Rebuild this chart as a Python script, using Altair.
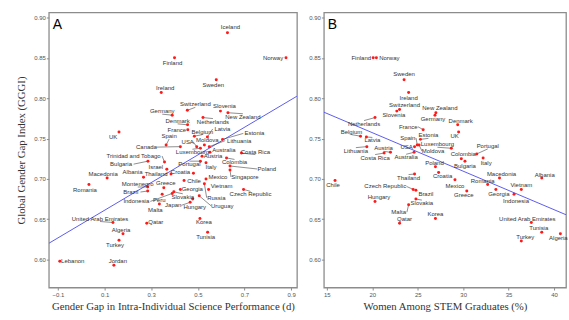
import altair as alt
import pandas as pd
import numpy as np

# ---------------- Panel A data ----------------
countries_a = ["Iceland", "Norway", "Finland", "Sweden", "Ireland", "Switzerland", "Slovenia",
               "Germany", "New Zealand", "Netherlands", "Denmark", "France", "Belgium", "Latvia",
               "Estonia", "UK", "Spain", "Canada", "USA", "Moldova", "Lithuania", "Luxembourg",
               "Australia", "Costa Rica", "Austria", "Portugal", "Italy", "Colombia", "Poland",
               "Singapore", "Trinidad and Tobago", "Bulgaria", "Israel", "Thailand", "Croatia",
               "Chile", "Mexico", "Vietnam", "Czech Republic", "Georgia", "Greece", "Slovakia",
               "Russia", "Uruguay", "Hungary", "Japan", "Peru", "Indonesia", "Montenegro", "Brazil",
               "Malta", "Macedonia", "Albania", "Romania", "United Arab Emirates", "Qatar", "Korea",
               "Algeria", "Tunisia", "Turkey", "Lebanon", "Jordan"]
science_gap_a = [0.627, 0.878, 0.400, 0.579, 0.343, 0.455, 0.597,
                 0.390, 0.629, 0.522, 0.456, 0.457, 0.485, 0.541,
                 0.606, 0.162, 0.364, 0.425, 0.495, 0.528, 0.549, 0.511,
                 0.552, 0.687, 0.518, 0.511, 0.535, 0.623, 0.638,
                 0.638, 0.357, 0.286, 0.367, 0.385, 0.481,
                 0.441, 0.535, 0.546, 0.696, 0.425, 0.354, 0.397,
                 0.528, 0.506, 0.478, 0.467, 0.347, 0.390, 0.285, 0.285,
                 0.335, 0.111, 0.267, 0.033, 0.136, 0.281, 0.509,
                 0.179, 0.542, 0.162, -0.092, 0.140]
gggi_a = [0.881, 0.850, 0.850, 0.823, 0.807, 0.785, 0.784,
          0.779, 0.782, 0.776, 0.767, 0.761, 0.753, 0.752,
          0.749, 0.758, 0.742, 0.740, 0.740, 0.742, 0.740, 0.738,
          0.733, 0.732, 0.728, 0.722, 0.720, 0.726, 0.716,
          0.711, 0.721, 0.722, 0.712, 0.706, 0.707,
          0.698, 0.700, 0.687, 0.687, 0.687, 0.689, 0.684,
          0.694, 0.679, 0.675, 0.671, 0.681, 0.682, 0.690, 0.685,
          0.669, 0.701, 0.702, 0.693, 0.646, 0.645, 0.651,
          0.632, 0.634, 0.624, 0.598, 0.593]

# ---------------- Panel B data ----------------
countries_b = ["Finland", "Norway", "Sweden", "Ireland", "Switzerland", "Slovenia", "Netherlands",
               "New Zealand", "Germany", "Denmark", "UK", "France", "Belgium", "Latvia", "Estonia",
               "Lithuania", "Spain", "USA", "Luxembourg", "Moldova", "Austria", "Costa Rica",
               "Australia", "Portugal", "Colombia", "Italy", "Bulgaria", "Poland", "Croatia",
               "Thailand", "Chile", "Mexico", "Macedonia", "Albania", "Romania", "Czech Republic",
               "Brazil", "Vietnam", "Georgia", "Greece", "Indonesia", "Slovakia", "Hungary", "Malta",
               "Qatar", "Korea", "United Arab Emirates", "Tunisia", "Turkey", "Algeria"]
stem_women_b = [20.1, 20.45, 23.5, 24.0, 23.0, 22.7, 20.3,
                27.0, 26.9, 29.4, 29.5, 25.6, 18.7, 19.35, 25.3,
                19.4, 24.95, 24.65, 28.7, 25.15, 22.0, 21.3,
                24.6, 31.5, 29.8, 32.2, 30.2, 26.95, 27.3,
                24.65, 15.9, 29.1, 34.0, 38.65, 32.7, 24.5,
                24.8, 36.4, 33.6, 30.4, 35.6, 24.8, 20.3, 24.0,
                23.0, 26.95, 37.5, 38.65, 36.4, 40.7]
gggi_b = [0.850, 0.850, 0.823, 0.807, 0.786, 0.784, 0.776,
          0.782, 0.779, 0.767, 0.758, 0.761, 0.753, 0.752, 0.749,
          0.740, 0.742, 0.740, 0.738, 0.742, 0.733, 0.732,
          0.733, 0.731, 0.725, 0.726, 0.722, 0.715, 0.708,
          0.706, 0.698, 0.699, 0.701, 0.701, 0.693, 0.687,
          0.686, 0.687, 0.687, 0.685, 0.681, 0.675, 0.672, 0.668,
          0.645, 0.651, 0.646, 0.634, 0.623, 0.632]

# ---------------- label placement (pixel nudges from each point) ----------------
nudge_a = {"Iceland": (3, -6), "Norway": (-13, 0), "Finland": (-2, 5), "Sweden": (-3, 5),
           "Ireland": (4, -5), "Switzerland": (8, -6), "Slovenia": (4, -5), "Germany": (-10, -4),
           "New Zealand": (15, 4), "Netherlands": (10, 4), "Denmark": (-10, -4), "France": (-11, 0),
           "Belgium": (8, -4.5), "Latvia": (15, -8), "Estonia": (32, -6), "UK": (-6, 5),
           "Spain": (3, -9), "Canada": (-34, 0.5), "USA": (-9, -5), "Moldova": (3, -5),
           "Lithuania": (30, -6), "Luxembourg": (-8, 4), "Australia": (14, -2), "Costa Rica": (14, -1.5),
           "Austria": (11, 0), "Portugal": (-11, 3), "Italy": (5, 4.5), "Colombia": (8, 4.5),
           "Poland": (37, 3), "Singapore": (15, 7), "Trinidad and Tobago": (-31, -6),
           "Bulgaria": (-27, 3), "Israel": (-11, -2), "Thailand": (-15, 0), "Croatia": (-13, -1.5),
           "Chile": (10, 0), "Mexico": (12, -1.5), "Vietnam": (13, -3), "Czech Republic": (7, 5),
           "Georgia": (12, 0), "Greece": (2, -5), "Slovakia": (9, 5), "Russia": (12, 14),
           "Uruguay": (23, 10), "Hungary": (2, 8), "Japan": (-17, 3), "Peru": (-3, 6),
           "Indonesia": (-36, 8), "Montenegro": (-10, -3), "Brazil": (-17, 1), "Malta": (-4, 6),
           "Macedonia": (-4, -4), "Albania": (-11, -5), "Romania": (-4, 5),
           "United Arab Emirates": (-13, -4), "Qatar": (9, -1), "Korea": (4, 4), "Algeria": (-2, -4),
           "Tunisia": (-2, 5), "Turkey": (-4, 5), "Lebanon": (13, 0), "Jordan": (4, -4)}
nudge_b = {"Finland": (-12, 0), "Norway": (13, 0), "Sweden": (0, -6), "Ireland": (0, 5),
           "Switzerland": (5, -5), "Slovenia": (-3, 4), "Netherlands": (-11, 6), "New Zealand": (4, -5),
           "Germany": (-2, 4), "Denmark": (3, -4), "UK": (-4, 4), "France": (-15, -3),
           "Belgium": (-9, -4.5), "Latvia": (6, 3.5), "Estonia": (8, -4), "Lithuania": (-11, 4),
           "Spain": (-9.5, -7), "USA": (-8, 0), "Luxembourg": (-14, -4), "Moldova": (14, 6),
           "Austria": (-7, -4), "Costa Rica": (-9, 4.5), "Australia": (-8, 5), "Portugal": (11, -8),
           "Colombia": (2, -4.5), "Italy": (3, 5), "Bulgaria": (0, 5), "Poland": (-1, -3.5),
           "Croatia": (4, 3.5), "Thailand": (-6, 3.5), "Chile": (-2, 4), "Mexico": (0, 6),
           "Macedonia": (2, -4.5), "Albania": (3, -3.5), "Romania": (-5, -4), "Czech Republic": (-28, -3),
           "Brazil": (10, 4), "Vietnam": (0, -4), "Georgia": (3, 4.5), "Greece": (-3, 4.5),
           "Indonesia": (2, 7), "Slovakia": (6, 4), "Hungary": (4, -4.5), "Malta": (-10, 7.5),
           "Qatar": (5, -4), "Korea": (0, -4.5), "United Arab Emirates": (-4, -4), "Tunisia": (-3, -4.5),
           "Turkey": (4, -4.5), "Algeria": (-2, 4.5)}

Y_DOM = [0.5654, 0.9062]
H = 276
XA_DOM = [-0.139, 0.925]
WA = 249
XB_DOM = [14.67, 41.32]
WB = 243

LABEL_FONT = "Liberation Sans"
TITLE_FONT = "Liberation Serif"
CHAR_W = 2.9


def build_frame(names, xs, ys, nudges, xdom, w):
    px_per_x = w / (xdom[1] - xdom[0])
    px_per_y = H / (Y_DOM[1] - Y_DOM[0])
    rows = []
    for n, x, y in zip(names, xs, ys):
        dx, dy = nudges.get(n, (0, -5))
        lx = x + dx / px_per_x
        ly = y - dy / px_per_y
        half = len(n) * CHAR_W / 2
        if abs(dx) > half:
            ex_px = dx - np.sign(dx) * (half + 1)
            ey_px = dy
        else:
            ex_px = dx
            ey_px = dy - np.sign(dy) * 3
        dist = np.hypot(ex_px, ey_px)
        rows.append(dict(country=n, x=x, y=y, lx=lx, ly=ly,
                         ex=x + ex_px / px_per_x, ey=y - ey_px / px_per_y,
                         leader=bool(dist > 6)))
    return pd.DataFrame(rows)


def panel(df, xdom, w, xticks, xfmt, xtitle, letter, ytitle):
    xs = alt.Scale(domain=xdom, nice=False, zero=False)
    ys = alt.Scale(domain=Y_DOM, nice=False, zero=False)
    base = alt.Chart(df)
    yaxis = alt.Axis(values=[0.60, 0.65, 0.70, 0.75, 0.80, 0.85, 0.90], format=".2f",
                     title=ytitle, grid=False, titleFont=TITLE_FONT,
                     titleFontWeight="normal", titleColor="#333333")
    xaxis = alt.Axis(values=xticks, format=xfmt, title=xtitle, grid=False,
                     titleFont=TITLE_FONT, titleFontWeight="normal", titleColor="#333333")

    fit = base.transform_regression("x", "y", extent=xdom).mark_line(
        color="#5c5cf0", strokeWidth=1, clip=True
    ).encode(x=alt.X("x:Q", scale=xs, axis=xaxis), y=alt.Y("y:Q", scale=ys, axis=yaxis))

    leaders = base.transform_filter("datum.leader").mark_rule(
        color="#444444", strokeWidth=0.6
    ).encode(x=alt.X("x:Q", scale=xs), y=alt.Y("y:Q", scale=ys), x2="ex:Q", y2="ey:Q")

    pts = base.mark_circle(color="#ff1a1a", opacity=1, size=9).encode(
        x=alt.X("x:Q", scale=xs), y=alt.Y("y:Q", scale=ys))

    labels = base.mark_text(font=LABEL_FONT, fontSize=6, color="#333333",
                            align="center", baseline="middle").encode(
        x=alt.X("lx:Q", scale=xs), y=alt.Y("ly:Q", scale=ys), text="country:N")

    let = alt.Chart(pd.DataFrame({"t": [letter]})).mark_text(
        font=LABEL_FONT, fontSize=14, color="black", align="left", baseline="alphabetic"
    ).encode(x=alt.value(4), y=alt.value(17), text="t:N")

    return alt.layer(fit, leaders, pts, labels, let).properties(width=w, height=H)


df_a = build_frame(countries_a, science_gap_a, gggi_a, nudge_a, XA_DOM, WA)
df_b = build_frame(countries_b, stem_women_b, gggi_b, nudge_b, XB_DOM, WB)

pa = panel(df_a, XA_DOM, WA, [round(-0.1 + 0.1 * i, 1) for i in range(11)], ".1f",
           "Gender Gap in Intra-Individual Science Performance (d)", "A",
           "Global Gender Gap Index (GGGI)")
pb = panel(df_b, XB_DOM, WB, [15, 20, 25, 30, 35, 40], "d",
           "Women Among STEM Graduates (%)", "B", "")

chart = alt.hconcat(pa, pb, spacing=10).properties(
    padding={"left": 15, "top": 11, "right": 0, "bottom": 0},
    background="white"
).configure_view(
    stroke="#8c8c8c", strokeWidth=1.3
).configure_axis(
    domain=False, ticks=True, tickColor="#8c8c8c", tickSize=2.5, tickWidth=1,
    labelFont=LABEL_FONT, labelFontSize=6, labelColor="#555555", labelPadding=1,
    titleFont=TITLE_FONT, titleFontSize=10.8, titleFontWeight="normal", titleColor="#333333"
).configure_axisX(titlePadding=4).configure_axisY(titlePadding=7)

chart.save("out.html", embed_options={"renderer": "svg", "actions": False})
